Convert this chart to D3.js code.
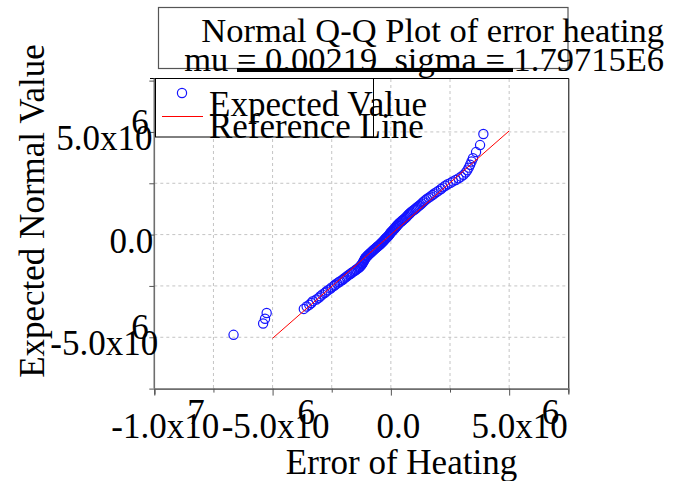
<!DOCTYPE html>
<html><head><meta charset="utf-8">
<script src="https://cdn.jsdelivr.net/npm/d3@7"></script>
<style>
body{margin:0;background:#fff;}
text{font-family:"Liberation Serif","Times New Roman",serif;fill:#000;}
</style>
</head><body>
<svg id="chart" width="673" height="481"></svg>
<script>
// ---- chart text ----
const titleLines = ["Normal Q-Q Plot of error heating", "mu = 0.00219  sigma = 1.79715E6"];
const xAxisTitle = "Error of Heating";
const yAxisTitle = "Expected Normal Value";
const legendLabels = ["Expected Value", "Reference Line"];

// ---- ticks ----
const xTickValues = [-1e7, -5e6, 0, 5e6];
const xMinorTickValues = [-7.5e6, -2.5e6, 2.5e6, 7.5e6];
const xTickMantissas = ["-1.0x10", "-5.0x10", "0.0", "5.0x10"];
const xTickExponents = ["7", "6", "", "6"];
const yTickValues = [-5e6, 0, 5e6];
const yMinorTickValues = [-7.5e6, -2.5e6, 2.5e6, 7.5e6];
const yTickMantissas = ["-5.0x10", "0.0", "5.0x10"];
const yTickExponents = ["6", "", "6"];

// ---- data (values in millions) ----
const errorOfHeating = [
 -6.65,-5.40,-5.32,-5.25,-3.68,-3.56,-3.45,-3.36,-3.30,-3.15,
 -3.05,-2.98,-2.90,-2.80,-2.74,-2.66,-2.55,-2.50,-2.40,-2.36,
 -2.28,-2.20,-2.14,-2.05,-2.00,-1.95,-1.88,-1.84,-1.78,-1.72,
 -1.66,-1.62,-1.55,-1.50,-1.46,-1.40,-1.36,-1.32,-1.29,-1.26,
 -1.23,-1.21,-1.19,-1.17,-1.15,-1.13,-1.11,-1.10,
 -1.08,-1.06,-1.02,-0.99,-0.97,-0.92,-0.90,-0.86,-0.83,-0.79,
 -0.77,-0.73,-0.70,-0.66,-0.63,-0.59,-0.56,-0.53,-0.49,-0.46,
 -0.42,-0.40,-0.37,-0.34,-0.31,-0.29,-0.26,-0.23,-0.21,-0.18,
 -0.15,-0.12,-0.10,-0.07,
 -0.05,-0.03,-0.01,0.02,0.05,0.08,0.11,0.14,0.17,0.20,
 0.23,0.25,0.28,0.31,0.34,0.38,0.42,0.46,0.50,0.54,
 0.58,0.62,0.66,0.69,0.72,0.76,0.80,0.84,0.88,0.93,
 0.99,1.04,1.09,1.14,1.20,1.25,1.30,1.35,1.40,1.46,
 1.52,1.60,1.68,1.76,1.84,1.93,2.02,2.12,2.20,2.30,
 2.40,2.52,2.62,2.74,2.86,2.97,3.07,3.16,3.23,3.29,
 3.35,3.41,3.47,3.60,3.77,3.91
];
const expectedNormalValue = [
 -4.88,-4.33,-4.10,-3.82,-3.62,-3.50,-3.42,-3.33,-3.24,-3.16,
 -3.08,-3.00,-2.92,-2.85,-2.78,-2.71,-2.63,-2.57,-2.50,-2.44,
 -2.38,-2.32,-2.27,-2.21,-2.16,-2.11,-2.06,-2.01,-1.96,-1.92,
 -1.87,-1.83,-1.78,-1.74,-1.70,-1.66,-1.62,-1.58,-1.54,-1.50,
 -1.46,-1.42,-1.38,-1.34,-1.30,-1.26,-1.22,-1.18,
 -1.15,-1.11,-1.07,-1.04,-1.00,-0.96,-0.93,-0.89,-0.86,-0.82,
 -0.79,-0.75,-0.72,-0.68,-0.65,-0.61,-0.58,-0.55,-0.51,-0.48,
 -0.44,-0.41,-0.38,-0.34,-0.31,-0.28,-0.24,-0.21,-0.18,-0.15,
 -0.11,-0.08,-0.05,-0.01,
 0.02,0.06,0.09,0.13,0.16,0.20,0.24,0.27,0.31,0.35,
 0.39,0.43,0.46,0.50,0.54,0.58,0.62,0.66,0.70,0.74,
 0.78,0.82,0.86,0.90,0.95,0.99,1.03,1.08,1.12,1.17,
 1.21,1.26,1.31,1.36,1.41,1.46,1.51,1.57,1.62,1.68,
 1.74,1.80,1.86,1.93,2.00,2.07,2.14,2.22,2.30,2.38,
 2.45,2.52,2.59,2.66,2.74,2.82,2.91,3.02,3.13,3.26,
 3.40,3.56,3.72,4.02,4.36,4.90
];
const referenceLineX = [-5.0, 5.0];
const referenceLineY = [-5.05, 5.05];
const UNIT = 1e6;

// ---- layout ----
const svg = d3.select("#chart");
const L = 154.3, R = 568.3, T = 80.6, B = 388.6;
const x = d3.scaleLinear().domain([-1e7, 7.5e6]).range([L, R]);
const y = d3.scaleLinear().domain([-7.5e6, 7.5e6]).range([B, T]);
const FS = 35;
const xLabelNudge = [11, 3, 7.5, 10.5];

// grid
const gridX = [-7.5e6, -5e6, -2.5e6, 0, 2.5e6, 5e6];
const gridY = [-5e6, -2.5e6, 0, 2.5e6, 5e6];
svg.append("g").selectAll("line").data(gridX).join("line")
  .attr("x1", d => x(d)).attr("x2", d => x(d)).attr("y1", 79).attr("y2", B)
  .attr("stroke", "#c4c4c4").attr("stroke-dasharray", "3,3").attr("stroke-width", 1);
svg.append("g").selectAll("line").data(gridY).join("line")
  .attr("x1", L).attr("x2", R).attr("y1", d => y(d)).attr("y2", d => y(d))
  .attr("stroke", "#c4c4c4").attr("stroke-dasharray", "3,3").attr("stroke-width", 1);

// frame: top & right
svg.append("line").attr("x1", 150).attr("x2", R + 0.5).attr("y1", 78.5).attr("y2", 78.5)
  .attr("stroke", "#000").attr("stroke-width", 1);
svg.append("line").attr("x1", R + 0.5).attr("x2", R + 0.5).attr("y1", 78.5).attr("y2", B)
  .attr("stroke", "#000").attr("stroke-width", 1);

// axes
const allX = xTickValues.concat(xMinorTickValues).sort((a, b) => a - b);
const allY = yTickValues.concat(yMinorTickValues).sort((a, b) => a - b);
const gx = svg.append("g").attr("transform", `translate(0,${B})`)
  .call(d3.axisBottom(x).tickValues(allX).tickFormat("").tickSizeOuter(0).tickSize(6));
gx.select(".domain").attr("stroke", "#6e6e6e").attr("stroke-width", 1.6);
gx.selectAll(".tick line").attr("stroke", "#555").attr("y2", d => xTickValues.includes(d) ? 7 : 4);
const gy = svg.append("g").attr("transform", `translate(${L},0)`)
  .call(d3.axisLeft(y).tickValues(allY).tickFormat("").tickSizeOuter(0).tickSize(5));
gy.select(".domain").attr("stroke", "#6e6e6e").attr("stroke-width", 1.6)
  .attr("d", `M0,78.5V${B}`);
gy.selectAll(".tick line").attr("stroke", "#555");

// x tick labels
xTickValues.forEach((v, i) => {
  const cx = x(v) + xLabelNudge[i];
  svg.append("text").attr("x", cx).attr("y", 438).attr("text-anchor", "middle")
    .attr("font-size", FS).text(xTickMantissas[i]);
  if (xTickExponents[i]) {
    svg.append("text").attr("x", cx + 22).attr("y", 424).attr("font-size", FS)
      .text(xTickExponents[i]);
  }
});
// y tick labels
yTickValues.forEach((v, i) => {
  const by = y(v) + 18;
  if (yTickExponents[i]) {
    const cx = L - 50;
    svg.append("text").attr("x", cx).attr("y", by).attr("text-anchor", "middle")
      .attr("font-size", FS).text(yTickMantissas[i]);
    svg.append("text").attr("x", cx + 27).attr("y", by - 16).attr("font-size", FS)
      .text(yTickExponents[i]);
  } else {
    svg.append("text").attr("x", L - 1).attr("y", by).attr("text-anchor", "end")
      .attr("font-size", FS).text(yTickMantissas[i]);
  }
});

// axis titles
svg.append("text").attr("x", 401.5).attr("y", 474).attr("text-anchor", "middle")
  .attr("font-size", FS).text(xAxisTitle);
svg.append("text").attr("transform", "translate(44,211) rotate(-90)")
  .attr("text-anchor", "middle").attr("font-size", FS).text(yAxisTitle);

// points
const pts = errorOfHeating.map((e, i) => ({ e: e * UNIT, n: expectedNormalValue[i] * UNIT }));
svg.append("g").selectAll("circle").data(pts).join("circle")
  .attr("cx", d => x(d.e)).attr("cy", d => y(d.n)).attr("r", 4.6)
  .attr("fill", "none").attr("stroke", "#1414ff").attr("stroke-width", 1.2);

// reference line
const line = d3.line().x(d => x(d[0] * UNIT)).y(d => y(d[1] * UNIT));
svg.append("path").datum(referenceLineX.map((v, i) => [v, referenceLineY[i]]))
  .attr("d", line).attr("stroke", "#ff0000").attr("stroke-width", 1).attr("fill", "none");

// legend
svg.append("rect").attr("x", 155.5).attr("y", 78.5).attr("width", 218).attr("height", 58.5)
  .attr("fill", "#fff").attr("stroke", "#000").attr("stroke-width", 1);
svg.append("circle").attr("cx", 182).attr("cy", 93).attr("r", 4.6)
  .attr("fill", "none").attr("stroke", "#1414ff").attr("stroke-width", 1.2);
svg.append("line").attr("x1", 162).attr("x2", 203).attr("y1", 116.5).attr("y2", 116.5)
  .attr("stroke", "#ff0000").attr("stroke-width", 1);
svg.append("text").attr("x", 209).attr("y", 115.5).attr("font-size", FS).text(legendLabels[0]);
svg.append("text").attr("x", 209).attr("y", 137.5).attr("font-size", FS).text(legendLabels[1]);

// title box + title
svg.append("rect").attr("x", 158.5).attr("y", 7.5).attr("width", 409.5).attr("height", 61)
  .attr("fill", "#fff").attr("stroke", "#555").attr("stroke-width", 1.2);
svg.append("rect").attr("x", 237).attr("y", 68).attr("width", 276).attr("height", 4).attr("fill", "#000");
svg.append("text").attr("x", 664).attr("y", 42).attr("text-anchor", "end")
  .attr("font-size", 34.5).text(titleLines[0]);
svg.append("text").attr("x", 664).attr("y", 71).attr("text-anchor", "end")
  .attr("font-size", 34.5).style("white-space", "pre").text(titleLines[1]);
</script>
</body></html>
